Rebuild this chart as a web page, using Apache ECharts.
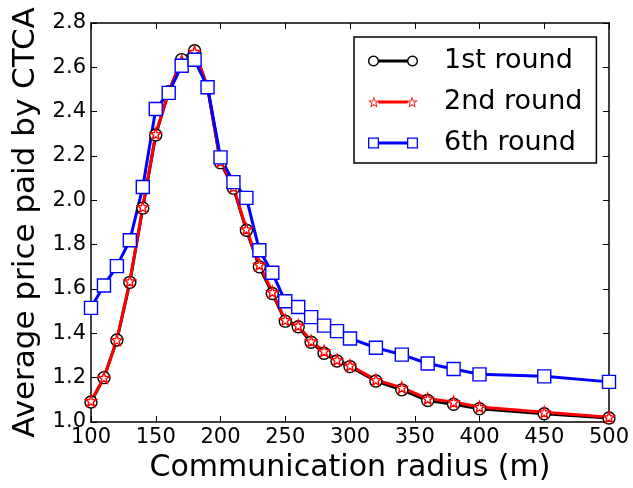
<!DOCTYPE html>
<html>
<head>
<meta charset="utf-8">
<script src="https://cdn.jsdelivr.net/npm/echarts@6/dist/echarts.min.js"></script>
<style>
  html, body { margin: 0; padding: 0; background: #fff; }
  #chart { width: 633px; height: 488px; }
</style>
</head>
<body>
<div id="chart"></div>
<script>
// communication radius (m)
const radius = [100, 110, 120, 130, 140, 150, 160, 170, 180, 190, 200, 210, 220, 230,
  240, 250, 260, 270, 280, 290, 300, 320, 340, 360, 380, 400, 450, 500];

// average price paid by CTCA, per round
const round1 = [1.09, 1.20, 1.37, 1.63, 1.965, 2.295, 2.49, 2.635, 2.675, 2.51, 2.17, 2.055, 1.865, 1.70,
  1.58, 1.455, 1.43, 1.36, 1.31, 1.275, 1.25, 1.185, 1.145, 1.097, 1.08, 1.06, 1.037, 1.018];
const round2 = [1.095, 1.20, 1.37, 1.635, 1.97, 2.30, 2.49, 2.63, 2.67, 2.51, 2.175, 2.06, 1.87, 1.71,
  1.587, 1.46, 1.435, 1.365, 1.32, 1.28, 1.255, 1.19, 1.155, 1.105, 1.09, 1.068, 1.044, 1.022];
const round6 = [1.515, 1.616, 1.703, 1.82, 2.06, 2.412, 2.485, 2.607, 2.634, 2.51, 2.194, 2.082, 2.011, 1.775,
  1.673, 1.545, 1.519, 1.473, 1.435, 1.41, 1.377, 1.335, 1.304, 1.264, 1.239, 1.215, 1.206, 1.181];

const seriesNames = ["1st round", "2nd round", "6th round"];
const seriesColors = ["#000000", "#ff0000", "#0000ff"];

const font = "DejaVu Sans";
const pairs = (ys) => radius.map((x, i) => [x, ys[i]]);

// outlines used for the markers and the legend handles
const starPoints = (cx, cy, R, r, reverse) => {
  const pts = [];
  for (let k = 0; k < 10; k++) {
    const a = -Math.PI / 2 + (k * Math.PI) / 5;
    const rad = k % 2 ? r : R;
    pts.push([cx + rad * Math.cos(a), cy + rad * Math.sin(a)]);
  }
  return reverse ? pts.reverse() : pts;
};
const circlePoints = (cx, cy, R, reverse) => {
  const pts = [];
  for (let k = 0; k < 28; k++) {
    const a = (k * 2 * Math.PI) / 28;
    pts.push([cx + R * Math.cos(a), cy + R * Math.sin(a)]);
  }
  return reverse ? pts.reverse() : pts;
};
const squarePoints = (cx, cy, h, reverse) => {
  const pts = [[cx - h, cy - h], [cx + h, cy - h], [cx + h, cy + h], [cx - h, cy + h]];
  return reverse ? pts.reverse() : pts;
};
const poly = (pts) => "M" + pts.map((p) => p[0].toFixed(2) + "," + p[1].toFixed(2)).join(" L") + " Z";
const STAR = "path://" + poly(starPoints(50, 50, 50, 20, false));

// matplotlib-style legend handle: line with a hollow marker at each end
const W = 50, H = 11, C = H / 2;
const handle = (outer, inner) => {
  const bar = poly([[H - 1, C - 1.5], [W - H + 1, C - 1.5], [W - H + 1, C + 1.5], [H - 1, C + 1.5]]);
  return "path://" + bar + " " +
    poly(outer(C)) + " " + poly(inner(C)) + " " +
    poly(outer(W - C)) + " " + poly(inner(W - C));
};
const legendIcons = [
  handle((x) => circlePoints(x, C, 5.5, false), (x) => circlePoints(x, C, 4.1, true)),
  handle((x) => starPoints(x, C + 0.6, 6.2, 2.6, false), (x) => starPoints(x, C + 0.6, 4.2, 1.5, true)),
  handle((x) => squarePoints(x, C, 5.5, false), (x) => squarePoints(x, C, 4.2, true)),
];

const chart = echarts.init(document.getElementById("chart"), null, { renderer: "canvas" });

const frameAxis = {
  axisLine: { show: true, onZero: false, lineStyle: { color: "#000", width: 1.5 } },
  axisTick: { show: true, inside: true, length: 6, lineStyle: { color: "#000", width: 1 } },
  splitLine: { show: false },
};

chart.setOption({
  backgroundColor: "#fff",
  animation: false,
  grid: { left: 91, right: 24, top: 23, bottom: 64 },
  xAxis: [
    {
      type: "value", min: 100, max: 500, interval: 50, position: "bottom",
      ...frameAxis,
      axisLabel: { color: "#000", fontFamily: font, fontSize: 21, margin: 5 },
      name: "Communication radius (m)", nameLocation: "middle", nameGap: 31,
      nameTextStyle: { color: "#000", fontFamily: font, fontSize: 30 },
    },
    {
      type: "value", min: 100, max: 500, interval: 50, position: "top",
      ...frameAxis, axisLabel: { show: false },
    },
  ],
  yAxis: [
    {
      type: "value", min: 1.0, max: 2.8, interval: 0.2, position: "left",
      ...frameAxis,
      axisLabel: { color: "#000", fontFamily: font, fontSize: 21, margin: 5,
        formatter: (v) => v.toFixed(1) },
      name: "Average price paid by CTCA", nameLocation: "middle", nameGap: 49,
      nameTextStyle: { color: "#000", fontFamily: font, fontSize: 31 },
    },
    {
      type: "value", min: 1.0, max: 2.8, interval: 0.2, position: "right",
      ...frameAxis, axisLabel: { show: false },
    },
  ],
  legend: {
    orient: "vertical", left: 354, top: 37,
    padding: [9, 14, 5, 14], itemGap: 11,
    itemWidth: W, itemHeight: H,
    backgroundColor: "#fff", borderColor: "#000", borderWidth: 1.5,
    textStyle: { color: "#000", fontFamily: font, fontSize: 27, lineHeight: 30, padding: [0, 0, 0, 21] },
    data: seriesNames.map((name, i) => ({
      name, icon: legendIcons[i],
      itemStyle: { color: seriesColors[i], borderWidth: 0 },
    })),
  },
  series: [
    {
      name: seriesNames[0], type: "line", data: pairs(round1),
      symbol: "circle", symbolSize: 12, showAllSymbol: true,
      lineStyle: { color: seriesColors[0], width: 3 },
      itemStyle: { color: "#fff", borderColor: seriesColors[0], borderWidth: 1.4 },
    },
    {
      name: seriesNames[1], type: "line", data: pairs(round2),
      symbol: STAR, symbolSize: 11, showAllSymbol: true,
      lineStyle: { color: seriesColors[1], width: 3 },
      itemStyle: { color: "#fff", borderColor: seriesColors[1], borderWidth: 1.4 },
    },
    {
      name: seriesNames[2], type: "line", data: pairs(round6),
      symbol: "rect", symbolSize: 13, showAllSymbol: true,
      lineStyle: { color: seriesColors[2], width: 3 },
      itemStyle: { color: "#fff", borderColor: seriesColors[2], borderWidth: 1.4 },
    },
  ],
});
</script>
</body>
</html>
